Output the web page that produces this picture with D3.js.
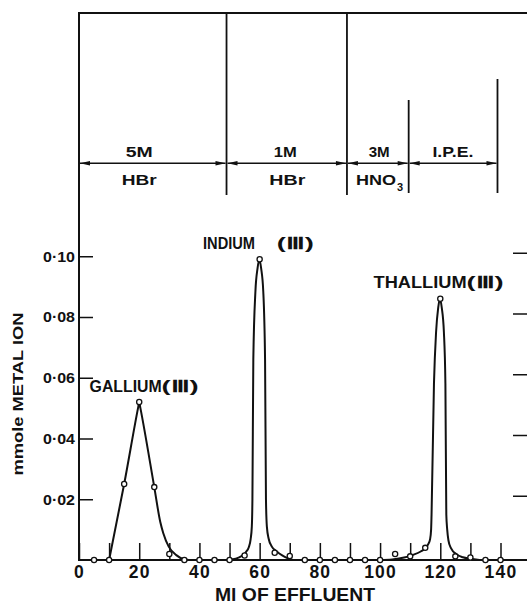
<!DOCTYPE html>
<html>
<head>
<meta charset="utf-8">
<script src="https://cdn.jsdelivr.net/npm/d3@7"></script>
<style>
  html, body { margin: 0; padding: 0; background: #fff; }
  svg { display: block; }
  text { font-family: "Liberation Sans", Arial, sans-serif; font-weight: bold; fill: #111; }
</style>
</head>
<body>
<svg id="chart" width="527" height="604"></svg>
<script>
// ---- Data -----------------------------------------------------------------

// Collected fractions: effluent volume (ml) and metal found (mmole)
const fractionMl    = [5, 10, 15, 20, 25, 30, 35, 40, 45, 50, 55, 60, 65, 70, 75, 80, 85, 90, 95, 100, 105, 110, 115, 120, 125, 130, 135, 140];
const fractionMmole = [0, 0, 0.025, 0.052, 0.024, 0.002, 0, 0, 0, 0, 0.0015, 0.099, 0.0024, 0.0013, 0, 0, 0, 0, 0, 0, 0.002, 0.0012, 0.004, 0.086, 0.0012, 0.0008, 0, 0];

// Smoothed elution curves
const galliumMl     = [10, 15, 19.7, 20, 20.3, 25, 27, 28, 29.8, 32.3, 35, 36.5];
const galliumMmole  = [0, 0.025, 0.0505, 0.052, 0.0505, 0.024, 0.0125, 0.0088, 0.0044, 0.0016, 0.0002, 0];

const indiumMl      = [50, 52, 54, 55.5, 56.4, 57.0, 57.4, 57.6, 57.9, 58.6, 59.3, 59.9, 60.5, 61.2, 61.8, 62.1, 62.4, 63.0, 64.0, 65.7, 67.5, 69.2, 71];
const indiumMmole   = [0, 0.0004, 0.0013, 0.0027, 0.0042, 0.0068, 0.011, 0.02, 0.066, 0.0885, 0.096, 0.099, 0.096, 0.0885, 0.066, 0.02, 0.011, 0.007, 0.0045, 0.0028, 0.0015, 0.0006, 0];

const thalliumMl    = [100, 104, 108, 111, 113.5, 115, 116, 116.6, 116.95, 117.1, 117.9, 118.6, 119.3, 119.9, 120.5, 121.2, 121.7, 122.0, 122.3, 122.7, 123.5, 125.5, 127.5, 130, 133];
const thalliumMmole = [0, 0.0002, 0.0008, 0.0017, 0.0028, 0.0038, 0.0052, 0.0068, 0.01, 0.015, 0.058, 0.075, 0.083, 0.086, 0.083, 0.075, 0.058, 0.015, 0.01, 0.0065, 0.004, 0.0018, 0.0009, 0.0004, 0];

const peakNames  = ["GALLIUM", "INDIUM", "THALLIUM"];
const peakState  = "(\u2162)";
const peakMl     = [20, 60, 120];

// Eluents: volume (ml) at which each one ends
const eluentEndMl    = [49, 89, 109.5, 139];
const eluentStrength = ["5M", "1M", "3M", "I.P.E."];
const eluentAcid     = ["HBr", "HBr", "HNO", ""];
const eluentAcidSub  = ["", "", "3", ""];

// Axis ticks
const xTickValues = [0, 10, 20, 30, 40, 50, 60, 70, 80, 90, 100, 110, 120, 130, 140];
const xTickLabels = ["0", "", "20", "", "40", "", "60", "", "80", "", "100", "", "120", "", "140"];
const yTickValues = [0.02, 0.04, 0.06, 0.08, 0.10];
const yTickLabels = ["0\u00b702", "0\u00b704", "0\u00b706", "0\u00b708", "0\u00b710"];

// ---- Drawing --------------------------------------------------------------

const W = 527, H = 604;
const ink = "#111";
const svg = d3.select("#chart");

const x = d3.scaleLinear().domain([0, 140]).range([79, 500.5]);
const y = d3.scaleLinear().domain([0, 0.1]).range([560, 256.25]);

// Upper panel: frame and eluent boundaries
const panelTop = 13, panelBottom = 195, arrowY = 163.3;
const boundaryTop = [panelTop, panelTop, 100, 79];

svg.append("line")
  .attr("x1", x(0) - 1).attr("x2", W).attr("y1", panelTop).attr("y2", panelTop)
  .attr("stroke", ink).attr("stroke-width", 2);

svg.append("g").selectAll("line").data(eluentEndMl).join("line")
  .attr("x1", d => x(d)).attr("x2", d => x(d))
  .attr("y1", (d, i) => boundaryTop[i])
  .attr("y2", (d, i) => panelBottom - (i >= 2 ? 2 : 0))
  .attr("stroke", ink).attr("stroke-width", 1.8);

// Double-headed arrows spanning each eluent
const arrows = svg.append("g");
eluentEndMl.forEach((end, i) => {
  const a = x(i === 0 ? 0 : eluentEndMl[i - 1]) + 1;
  const b = x(end) - 1;
  arrows.append("line").attr("x1", a).attr("x2", b).attr("y1", arrowY).attr("y2", arrowY)
    .attr("stroke", ink).attr("stroke-width", 1.5);
  arrows.append("path").attr("fill", ink)
    .attr("d", `M${a},${arrowY}L${a + 10},${arrowY - 2.2}L${a + 10},${arrowY + 2.2}Z`);
  arrows.append("path").attr("fill", ink)
    .attr("d", `M${b},${arrowY}L${b - 10},${arrowY - 2.2}L${b - 10},${arrowY + 2.2}Z`);
});

// Eluent labels
const labelMl = [20, 68.5, 99.7, 124.2];
const strengthWidth = [27, 23, 21, 41];
const acidLabelMl = [20, 69.2, 100];
const acidWidth = [35, 36, 40];

svg.append("g").selectAll("text").data(eluentStrength).join("text")
  .attr("x", (d, i) => x(labelMl[i])).attr("y", 157)
  .attr("text-anchor", "middle").attr("font-size", 14.5)
  .attr("textLength", (d, i) => strengthWidth[i]).attr("lengthAdjust", "spacingAndGlyphs")
  .text(d => d);

eluentAcid.forEach((acid, i) => {
  if (!acid) return;
  const t = svg.append("text")
    .attr("x", x(acidLabelMl[i]) - acidWidth[i] / 2 - (eluentAcidSub[i] ? 4 : 0)).attr("y", 185)
    .attr("font-size", 14.5);
  t.append("tspan").attr("textLength", acidWidth[i]).attr("lengthAdjust", "spacingAndGlyphs").text(acid);
  if (eluentAcidSub[i]) {
    t.append("tspan").attr("font-size", 11).attr("dy", 6).attr("dx", 1).text(eluentAcidSub[i]);
  }
});

// Axes
const xAxis = svg.append("g")
  .attr("transform", `translate(0,${y(0)})`)
  .call(d3.axisBottom(x).tickValues(xTickValues)
    .tickSizeInner(-17).tickSizeOuter(0).tickPadding(5.5)
    .tickFormat((d, i) => xTickLabels[i]))
  .call(g => g.select(".domain").remove())
  .attr("font-size", 17.5);
xAxis.selectAll(".tick line").attr("stroke", ink).attr("stroke-width", 1.5);
xAxis.selectAll("text").attr("letter-spacing", 1.2).attr("fill", ink);

svg.append("line")
  .attr("x1", x(0) - 1).attr("x2", W).attr("y1", y(0)).attr("y2", y(0))
  .attr("stroke", ink).attr("stroke-width", 2);

const yAxis = svg.append("g")
  .attr("transform", `translate(${x(0)},0)`)
  .call(d3.axisLeft(y).tickValues(yTickValues)
    .tickSizeInner(-14).tickSizeOuter(0).tickPadding(4)
    .tickFormat((d, i) => yTickLabels[i]))
  .call(g => g.select(".domain").remove())
  .attr("font-size", 15);
yAxis.selectAll(".tick line").attr("stroke", ink).attr("stroke-width", 1.5);
yAxis.selectAll("text").attr("textLength", 32).attr("lengthAdjust", "spacingAndGlyphs").attr("fill", ink);

svg.append("line")
  .attr("x1", x(0)).attr("x2", x(0)).attr("y1", panelTop - 1).attr("y2", y(0) + 1)
  .attr("stroke", ink).attr("stroke-width", 2);

// Ticks of the right-hand axis
svg.append("g").attr("transform", "translate(0,-3)")
  .selectAll("line").data(yTickValues).join("line")
  .attr("x1", W - 14).attr("x2", W).attr("y1", d => y(d)).attr("y2", d => y(d))
  .attr("stroke", ink).attr("stroke-width", 1.5);

// Axis titles
svg.append("text")
  .attr("x", 295).attr("y", 601).attr("text-anchor", "middle")
  .attr("font-size", 18).attr("textLength", 160).attr("lengthAdjust", "spacingAndGlyphs")
  .text("Ml OF EFFLUENT");

svg.append("text")
  .attr("transform", "translate(23,394) rotate(-90)").attr("text-anchor", "middle")
  .attr("font-size", 15.5).attr("textLength", 163).attr("lengthAdjust", "spacingAndGlyphs")
  .text("mmole METAL  ION");

// Elution curves
const line = d3.line().x(d => x(d[0])).y(d => y(d[1])).curve(d3.curveMonotoneX);
[[galliumMl, galliumMmole], [indiumMl, indiumMmole], [thalliumMl, thalliumMmole]].forEach(([ml, mm]) => {
  svg.append("path")
    .attr("d", line(ml.map((v, i) => [v, mm[i]])))
    .attr("fill", "none").attr("stroke", ink).attr("stroke-width", 2)
    .attr("stroke-linejoin", "round");
});

// Fraction measurements
svg.append("g").selectAll("circle").data(fractionMl).join("circle")
  .attr("cx", d => x(d)).attr("cy", (d, i) => y(fractionMmole[i])).attr("r", 2.6)
  .attr("fill", "#fff").attr("stroke", ink).attr("stroke-width", 1.3);

// Peak labels
const nameOffset = [-49.6, -56.6, -66.7];
const nameWidth = [72, 52, 93];
const stateGap = [0, 21.7, 0];
const peakTop = peakMl.map(m => fractionMmole[fractionMl.indexOf(m)]);

peakNames.forEach((name, i) => {
  const px = x(peakMl[i]) + nameOffset[i];
  const py = y(peakTop[i]) - 10.5;
  svg.append("text").attr("x", px).attr("y", py).attr("font-size", 16)
    .attr("textLength", nameWidth[i]).attr("lengthAdjust", "spacingAndGlyphs").text(name);
  svg.append("text").attr("x", px + nameWidth[i] + stateGap[i]).attr("y", py).attr("font-size", 16)
    .attr("textLength", 37).attr("lengthAdjust", "spacingAndGlyphs").text(peakState);
});
</script>
</body>
</html>
